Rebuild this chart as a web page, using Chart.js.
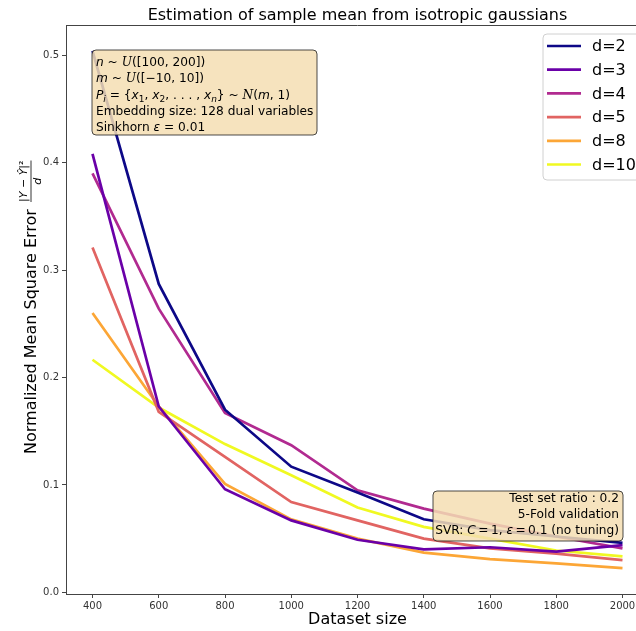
<!DOCTYPE html>
<html>
<head>
<meta charset="utf-8">
<script src="https://cdn.jsdelivr.net/npm/chart.js@4.4.1/dist/chart.umd.min.js"></script>
<style>
  body { margin: 0; background: #fff; overflow: hidden; }
  #wrap { width: 636px; height: 631px; overflow: hidden; }
</style>
</head>
<body>
<div id="wrap"><canvas id="errChart" width="660" height="631"></canvas></div>
<script>
const sizes = [400, 600, 800, 1000, 1200, 1400, 1600, 1800, 2000];
const dims = ["d=2", "d=3", "d=4", "d=5", "d=8", "d=10"];
const errD2 = [0.504, 0.287, 0.170, 0.117, 0.093, 0.068, 0.058, 0.052, 0.046];
const errD3 = [0.408, 0.173, 0.096, 0.067, 0.049, 0.040, 0.042, 0.038, 0.044];
const errD4 = [0.390, 0.264, 0.167, 0.137, 0.095, 0.078, 0.064, 0.052, 0.041];
const errD5 = [0.321, 0.168, 0.126, 0.084, 0.067, 0.050, 0.041, 0.036, 0.030];
const errD8 = [0.260, 0.173, 0.101, 0.068, 0.050, 0.037, 0.031, 0.027, 0.0225];
const errD10 = [0.2165, 0.172, 0.138, 0.109, 0.079, 0.061, 0.050, 0.039, 0.0335];
const xTicks = [400, 600, 800, 1000, 1200, 1400, 1600, 1800, 2000];
const yTicks = [0.0, 0.1, 0.2, 0.3, 0.4, 0.5];

const colors = ["#0d0887", "#6a00a8", "#b12a90", "#e16462", "#fca636", "#f0f921"];
const allErr = [errD2, errD3, errD4, errD5, errD8, errD10];
const FONT = "'DejaVu Sans', sans-serif";

// draw a line of text made of runs: [text, style] with style "", "i", "s" (italic serif), "sub"
function runWidth(ctx, runs, size) {
  let w = 0;
  runs.forEach(([t, st]) => {
    ctx.font = runFont(st, size);
    w += ctx.measureText(t).width;
  });
  return w;
}
function runFont(st, size) {
  if (st === "i") return `italic ${size}px ${FONT}`;
  if (st === "s") return `italic ${size}px 'DejaVu Serif', serif`;
  if (st === "sub") return `italic ${Math.round(size * 0.7)}px ${FONT}`;
  if (st === "subn") return `${Math.round(size * 0.7)}px ${FONT}`;
  return `${size}px ${FONT}`;
}
function drawRuns(ctx, runs, x, y, size, align) {
  let cx = align === "right" ? x - runWidth(ctx, runs, size) : x;
  ctx.textAlign = "left";
  ctx.textBaseline = "alphabetic";
  runs.forEach(([t, st]) => {
    ctx.font = runFont(st, size);
    const dy = (st === "sub" || st === "subn") ? size * 0.25 : 0;
    ctx.fillText(t, cx, y + dy);
    cx += ctx.measureText(t).width;
  });
}
function box(ctx, x, y, w, h) {
  ctx.beginPath();
  ctx.roundRect(x, y, w, h, 4);
  ctx.fillStyle = "rgba(245, 222, 179, 0.85)";
  ctx.fill();
  ctx.strokeStyle = "rgba(30, 30, 30, 0.8)";
  ctx.lineWidth = 1;
  ctx.stroke();
}

const overlay = {
  id: "overlay",
  afterDraw(chart) {
    const { ctx, chartArea: a } = chart;
    ctx.save();

    // top spine
    ctx.strokeStyle = "#444";
    ctx.lineWidth = 1;
    ctx.beginPath();
    ctx.moveTo(a.left, a.top + 0.5);
    ctx.lineTo(a.right, a.top + 0.5);
    ctx.stroke();

    // title
    ctx.fillStyle = "#000";
    ctx.font = `16px ${FONT}`;
    ctx.textAlign = "center";
    ctx.textBaseline = "middle";
    ctx.fillText("Estimation of sample mean from isotropic gaussians", (a.left + a.right) / 2, 16);

    // y-axis title with fraction
    ctx.save();
    ctx.translate(36, 454);
    ctx.rotate(-Math.PI / 2);
    ctx.fillStyle = "#000";
    ctx.font = `16px ${FONT}`;
    ctx.textAlign = "left";
    ctx.textBaseline = "alphabetic";
    const main = "Normalized Mean Square Error ";
    ctx.fillText(main, 0, 0);
    const fx = ctx.measureText(main).width + 2;
    const num = [["|", ""], ["Y", "i"], [" \u2212 ", ""], ["\u0176", "i"], ["|\u00b2", ""]];
    const nw = runWidth(ctx, num, 11);
    drawRuns(ctx, num, fx, -9, 11, "left");
    ctx.strokeStyle = "#000";
    ctx.lineWidth = 0.8;
    ctx.beginPath();
    ctx.moveTo(fx, -5);
    ctx.lineTo(fx + nw, -5);
    ctx.stroke();
    ctx.font = `italic 11px ${FONT}`;
    ctx.textAlign = "center";
    ctx.fillText("d", fx + nw / 2, 5);
    ctx.restore();

    // parameter box, top left
    box(ctx, 92, 50, 225, 85);
    ctx.fillStyle = "#000";
    const lines = [
      [["n", "i"], [" ~ ", ""], ["U", "s"], ["([100, 200])", ""]],
      [["m", "i"], [" ~ ", ""], ["U", "s"], ["([\u221210, 10])", ""]],
      [["P", "i"], ["i", "sub"], [" = {", ""], ["x", "i"], ["1", "subn"], [", ", ""], ["x", "i"], ["2", "subn"],
       [", . . . , ", ""], ["x", "i"], ["n", "sub"], ["} ~ ", ""], ["N", "s"], ["(", ""], ["m", "i"], [", 1)", ""]],
      [["Embedding size: 128 dual variables", ""]],
      [["Sinkhorn ", ""], ["\u03b5", "i"], [" = 0.01", ""]]
    ];
    lines.forEach((runs, i) => drawRuns(ctx, runs, 96, 66 + i * 16.25, 12.2, "left"));

    // validation box, bottom right
    box(ctx, 433, 491, 190, 50);
    ctx.fillStyle = "#000";
    const lines2 = [
      [["Test set ratio : 0.2", ""]],
      [["5-Fold validation", ""]],
      [["SVR: ", ""], ["C", "i"], ["\u2009=\u20091, ", ""], ["\u03b5", "i"], ["\u2009=\u20090.1 (no tuning)", ""]]
    ];
    lines2.forEach((runs, i) => drawRuns(ctx, runs, 619, 502 + i * 16, 12.2, "right"));

    // legend, upper right inside axes
    ctx.beginPath();
    ctx.roundRect(543, 34, 102, 146, 4);
    ctx.fillStyle = "rgba(255, 255, 255, 0.8)";
    ctx.fill();
    ctx.strokeStyle = "#d0d0d0";
    ctx.lineWidth = 1;
    ctx.stroke();
    chart.data.datasets.forEach((ds, i) => {
      const y = 46 + i * 23.7;
      ctx.strokeStyle = ds.borderColor;
      ctx.lineWidth = 2.7;
      ctx.beginPath();
      ctx.moveTo(547, y);
      ctx.lineTo(581, y);
      ctx.stroke();
      ctx.fillStyle = "#000";
      ctx.font = `16px ${FONT}`;
      ctx.textAlign = "left";
      ctx.textBaseline = "middle";
      ctx.fillText(ds.label, 592, y + 1);
    });

    ctx.restore();
  }
};

const ctx = document.getElementById("errChart").getContext("2d");
const errChart = new Chart(ctx, {
  type: "line",
  data: {
    datasets: dims.map((label, i) => ({
      label: label,
      data: sizes.map((s, j) => ({ x: s, y: allErr[i][j] })),
      borderColor: colors[i],
      backgroundColor: colors[i],
      borderWidth: 2.7,
      pointRadius: 0,
      tension: 0,
      fill: false,
    })),
  },
  options: {
    responsive: false,
    animation: false,
    layout: { padding: { left: 0, right: 11, top: 25, bottom: 0 } },
    plugins: {
      legend: { display: false },
      title: { display: false },
      tooltip: { enabled: false },
    },
    scales: {
      x: {
        type: "linear",
        min: 320,
        max: 2080,
        afterBuildTicks: (s) => { s.ticks = xTicks.map((v) => ({ value: v })); },
        afterFit: (s) => { s.height = 37; },
        ticks: {
          color: "#333",
          font: { family: "DejaVu Sans", size: 10 },
          padding: 2,
          maxRotation: 0,
          callback: (v) => String(v),
        },
        grid: { drawOnChartArea: false, drawTicks: true, tickLength: 4, color: "#444" },
        border: { display: true, color: "#444", width: 1 },
        title: {
          display: true,
          text: "Dataset size",
          color: "#000",
          font: { family: "DejaVu Sans", size: 16 },
          padding: { top: 0, bottom: 2 },
        },
      },
      y: {
        type: "linear",
        min: -0.0015,
        max: 0.528,
        afterBuildTicks: (s) => { s.ticks = yTicks.map((v) => ({ value: v })); },
        afterFit: (s) => { s.width = 66; },
        ticks: {
          color: "#333",
          font: { family: "DejaVu Sans", size: 10 },
          padding: 3,
          callback: (v) => Number(v).toFixed(1),
        },
        grid: { drawOnChartArea: false, drawTicks: true, tickLength: 4, color: "#444" },
        border: { display: true, color: "#444", width: 1 },
      },
    },
  },
  plugins: [overlay],
});
</script>
</body>
</html>
